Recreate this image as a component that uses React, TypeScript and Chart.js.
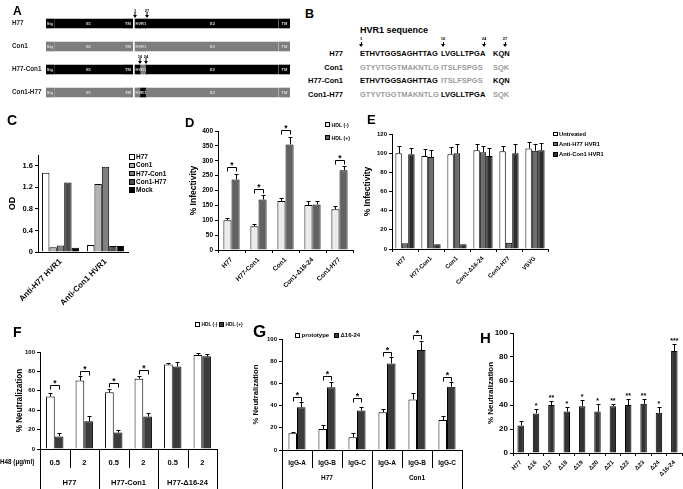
import React, { useEffect, useRef } from 'react';
import { Chart, registerables } from 'chart.js';

Chart.register(...registerables);

const FF = "'Liberation Sans', Arial, Helvetica, sans-serif";
Chart.defaults.font.family = FF;
Chart.defaults.color = '#000';

// ---------------- Panel A data (domain map) ----------------
const aRows = ['H77', 'Con1', 'H77-Con1', 'Con1-H77'];
const aRowBase = ['H77', 'Con1', 'H77', 'Con1'];
const aRowMid = ['H77', 'Con1', 'Con1', 'H77']; // origin of HVR1 residues 16-24
const aDomainLabels = ['Sig', 'E1', 'TM', 'HVR1', 'E2', 'TM'];
const aDomainFrom = [0, 8.5, 77.3, 89, 101.3, 232.7];
const aDomainTo = [7.7, 76.7, 86.7, 100.7, 231.7, 244];
const aHvrCuts = [94, 99.5];
const aArrowRows = [0, 0, 2, 2];
const aArrowAt = [89, 100.7, 94, 99.5];
const aArrowText = ['1', '27', '16', '24'];

// ---------------- Panel B data (sequences) ----------------
const bRows = ['H77', 'Con1', 'H77-Con1', 'Con1-H77'];
const bH77Blocks = ['ETHVTGGSAGHTTAG', 'LVGLLTPGA', 'KQN'];
const bCon1Blocks = ['GTYVTGGTMAKNTLG', 'ITSLFSPGS', 'SQK'];
const bRowOrigin = [
  ['H77', 'H77', 'H77'],
  ['Con1', 'Con1', 'Con1'],
  ['H77', 'Con1', 'H77'],
  ['Con1', 'H77', 'Con1'],
];
const bMarks = ['1', '16', '24', '27'];

// ---------------- Panel C data ----------------
const cCategories = ['Anti-H77 HVR1', 'Anti-Con1 HVR1'];
const cSeries = ['H77', 'Con1', 'H77-Con1', 'Con1-H77', 'Mock'];
const cH77 = [1.47, 0.13];
const cCon1 = [0.09, 1.26];
const cH77Con1 = [0.12, 1.58];
const cCon1H77 = [1.29, 0.11];
const cMock = [0.08, 0.11];

// ---------------- Panel D data ----------------
const dCategories = ['H77', 'H77-Con1', 'Con1', 'Con1-Δ16-24', 'Con1-H77'];
const dSeries = ['HDL (-)', 'HDL (+)'];
const dHdlMinus = [100, 80, 165, 151, 137];
const dHdlMinusErr = [6, 6, 11, 14, 12];
const dHdlPlus = [237, 170, 355, 153, 268];
const dHdlPlusErr = [20, 14, 25, 12, 14];
const dSigIndex = [0, 1, 2, 4];
const dSigLevel = [279, 204, 402, 304];

// ---------------- Panel E data ----------------
const eCategories = ['H77', 'H77-Con1', 'Con1', 'Con1-Δ16-24', 'Con1-H77', 'VSVG'];
const eSeries = ['Untreated', 'Anti-H77 HVR1', 'Anti-Con1 HVR1'];
const eUntreated = [100, 97, 99, 103, 102, 105];
const eUntreatedErr = [8, 7, 7, 7, 5.5, 7];
const eAntiH77 = [6, 96, 100, 101, 6.5, 102.5];
const eAntiH77Err = [0, 7, 10, 6.5, 0, 7.5];
const eAntiCon1 = [99, 5, 5, 97, 100, 103];
const eAntiCon1Err = [6, 0, 0, 8, 10, 8];

// ---------------- Panel F data ----------------
const fDoses = ['0.5', '2', '0.5', '2', '0.5', '2'];
const fConstructs = ['H77', 'H77-Con1', 'H77-Δ16-24'];
const fSeries = ['HDL (-)', 'HDL (+)'];
const fHdlMinus = [54, 70.5, 58.5, 72.5, 87, 97];
const fHdlMinusErr = [4, 5, 3.5, 3, 1.5, 2];
const fHdlPlus = [13, 28.5, 17, 33.5, 85, 95.5];
const fHdlPlusErr = [4, 6, 3, 4, 4.5, 2];
const fSigIndex = [0, 1, 2, 3];
const fSigLevel = [66, 80, 68, 81];

// ---------------- Panel G data ----------------
const gAntibodies = ['IgG-A', 'IgG-B', 'IgG-C', 'IgG-A', 'IgG-B', 'IgG-C'];
const gViruses = ['H77', 'Con1'];
const gSeries = ['prototype', 'Δ16-24'];
const gPrototype = [15, 19, 11.5, 34, 45.5, 27];
const gPrototypeErr = [1.5, 3.5, 3.5, 2.5, 6, 4];
const gDelta = [38.5, 56.5, 35.5, 78, 90, 57];
const gDeltaErr = [4.5, 4.5, 3, 5.5, 8, 4.5];
const gSigIndex = [0, 1, 2, 3, 4, 5];
const gSigLevel = [48, 66.5, 47, 88, 103.5, 66];

// ---------------- Panel H data ----------------
const hMutants = ['H77', 'Δ16', 'Δ17', 'Δ18', 'Δ19', 'Δ20', 'Δ21', 'Δ22', 'Δ23', 'Δ24', 'Δ16-24'];
const hValues = [23, 33, 40, 34.5, 39, 34.5, 39, 40, 41, 33.5, 85];
const hErr = [3.5, 3.5, 3.5, 3.5, 5.5, 6, 2, 5, 4, 5, 6];
const hStars = ['', '*', '**', '*', '*', '*', '**', '**', '**', '*', '***'];

// ---------------- helpers ----------------
type Box = { left: number; top: number; width: number; height: number };
type Plot = { x0: number; y0: number; x1: number; y1: number };

function fixW(w: number) {
  return (s: any) => {
    s.width = w;
    s.paddingTop = 0; s.paddingBottom = 0; s.paddingLeft = 0; s.paddingRight = 0;
  };
}
function fixH(h: number) {
  return (s: any) => {
    s.height = h;
    s.paddingTop = 0; s.paddingBottom = 0; s.paddingLeft = 0; s.paddingRight = 0;
  };
}
function frame(box: Box, plot: Plot, padLeft = 0) {
  return {
    padding: { left: padLeft, top: plot.y0 - box.top, right: box.left + box.width - plot.x1, bottom: 0 },
    yW: plot.x0 - box.left - padLeft,
    xH: box.top + box.height - plot.y1,
  };
}

function yAxis(o: { min: number; max: number; step: number; w: number; size: number; title?: string; titleSize?: number; titleX?: number; fmt?: (v: number) => string }) {
  const ts = o.titleSize || 8.5;
  const lh = ts * 1.2;
  return {
    type: 'linear',
    min: o.min,
    max: o.max,
    ticks: {
      stepSize: o.step,
      font: { size: o.size, weight: 'bold' },
      color: '#000',
      padding: 2,
      callback: o.fmt || ((v: any) => String(v)),
    },
    grid: { drawOnChartArea: false, drawTicks: true, tickLength: 3, tickColor: '#000', color: '#000' },
    border: { display: true, color: '#000', width: 1 },
    title: o.title
      ? { display: true, text: o.title, color: '#000', font: { size: ts, weight: 'bold', lineHeight: 1.2 }, padding: { top: (o.titleX || 0) - lh / 2, bottom: 0 } }
      : { display: false },
    afterFit: fixW(o.w),
  };
}

function xAxis(o: { h: number; size: number; rotate?: boolean; ticks?: boolean; pad?: number }) {
  return {
    type: 'category',
    ticks: {
      font: { size: o.size, weight: 'bold' },
      color: '#000',
      autoSkip: false,
      maxRotation: o.rotate ? 45 : 0,
      minRotation: o.rotate ? 45 : 0,
      padding: o.pad ?? 3,
    },
    grid: { drawOnChartArea: false, drawTicks: !!o.ticks, tickLength: 3, tickColor: '#000', color: '#000', offset: true },
    border: { display: true, color: '#000', width: 1 },
    afterFit: fixH(o.h),
  };
}

function baseOptions(padding: any, scales: any) {
  return {
    responsive: false,
    animation: false,
    devicePixelRatio: 1,
    events: [],
    layout: { padding },
    plugins: { legend: { display: false }, tooltip: { enabled: false }, title: { display: false } },
    scales,
  };
}

function bars(label: string, data: number[], color: string, errors: number[] | null, cp: number, bp: number) {
  return {
    label,
    data,
    backgroundColor: color,
    borderColor: '#000',
    borderWidth: 1,
    categoryPercentage: cp,
    barPercentage: bp,
    errors,
  };
}

const errorBars = {
  id: 'errorBars',
  afterDatasetsDraw(chart: any) {
    const ctx = chart.ctx;
    const ys = chart.scales.y;
    ctx.save();
    ctx.strokeStyle = '#000';
    ctx.lineWidth = 1;
    chart.data.datasets.forEach((ds: any, di: number) => {
      if (!ds.errors) return;
      const meta = chart.getDatasetMeta(di);
      meta.data.forEach((el: any, i: number) => {
        const e = ds.errors[i];
        if (!e) return;
        const yTop = Math.round(ys.getPixelForValue(ds.data[i] + e)) + 0.5;
        const x = Math.round(el.x) + 0.5;
        ctx.beginPath();
        ctx.moveTo(x, el.y);
        ctx.lineTo(x, yTop);
        ctx.moveTo(x - 2, yTop);
        ctx.lineTo(x + 2, yTop);
        ctx.stroke();
      });
    });
    ctx.restore();
  },
};

function bracketPlugin(idx: number[], levels: number[], size: number) {
  return {
    id: 'brackets',
    afterDatasetsDraw(chart: any) {
      const ctx = chart.ctx;
      const ys = chart.scales.y;
      const a = chart.getDatasetMeta(0).data;
      const b = chart.getDatasetMeta(1).data;
      ctx.save();
      ctx.strokeStyle = '#000';
      ctx.fillStyle = '#000';
      ctx.lineWidth = 1;
      ctx.font = `bold ${size}px ${FF}`;
      ctx.textAlign = 'center';
      ctx.textBaseline = 'alphabetic';
      idx.forEach((i, k) => {
        const yy = Math.round(ys.getPixelForValue(levels[k])) + 0.5;
        const xa = Math.round(a[i].x) + 0.5;
        const xb = Math.round(b[i].x) + 0.5;
        ctx.beginPath();
        ctx.moveTo(xa, yy + 4);
        ctx.lineTo(xa, yy);
        ctx.lineTo(xb, yy);
        ctx.lineTo(xb, yy + 4);
        ctx.stroke();
        ctx.fillText('*', (xa + xb) / 2, yy + 0.5);
      });
      ctx.restore();
    },
  };
}

function tablePlugin(o: { group: number; groups: string[]; shortBottom: number; groupY: number; size: number; leftText?: string; leftY?: number; leftSize?: number }) {
  return {
    id: 'table',
    afterDraw(chart: any) {
      const ctx = chart.ctx;
      const xs = chart.scales.x;
      const area = chart.chartArea;
      const n = xs.ticks.length;
      const bx: number[] = [];
      for (let i = 0; i <= n; i++) {
        if (i === 0) bx.push(area.left);
        else if (i === n) bx.push(area.right);
        else bx.push((xs.getPixelForTick(i - 1) + xs.getPixelForTick(i)) / 2);
      }
      ctx.save();
      ctx.strokeStyle = '#000';
      ctx.lineWidth = 1;
      bx.forEach((x, i) => {
        const xx = Math.round(x) + 0.5;
        const long = i % o.group === 0;
        ctx.beginPath();
        ctx.moveTo(xx, area.bottom);
        ctx.lineTo(xx, long ? chart.height : o.shortBottom);
        ctx.stroke();
      });
      ctx.fillStyle = '#000';
      ctx.font = `bold ${o.size}px ${FF}`;
      ctx.textAlign = 'center';
      ctx.textBaseline = 'middle';
      o.groups.forEach((g, gi) => {
        const x = (bx[gi * o.group] + bx[(gi + 1) * o.group]) / 2;
        ctx.fillText(g, x, o.groupY);
      });
      if (o.leftText) {
        ctx.textAlign = 'left';
        ctx.font = `bold ${o.leftSize}px ${FF}`;
        ctx.fillText(o.leftText, 0, o.leftY);
      }
      ctx.restore();
    },
  };
}

function ChartCanvas({ box, config }: { box: Box; config: () => any }) {
  const ref = useRef<HTMLCanvasElement | null>(null);
  useEffect(() => {
    if (!ref.current) return;
    const chart = new Chart(ref.current, config());
    return () => chart.destroy();
  }, []);
  return (
    <canvas
      ref={ref}
      width={box.width}
      height={box.height}
      style={{ position: 'absolute', left: box.left, top: box.top, width: box.width, height: box.height }}
    />
  );
}

// ---------------- Panel A chart ----------------
const BLACK = '#000000';
const GREY = '#7d7d7d';
const boxA: Box = { left: 0, top: 8, width: 300, height: 100 };
function configA() {
  const datasets: any[] = [];
  const colorOf = (o: string) => (o === 'H77' ? BLACK : GREY);
  aDomainLabels.forEach((lab, di) => {
    const pieces: [number, number, string[]][] =
      lab === 'HVR1'
        ? [
            [aDomainFrom[di], aHvrCuts[0], aRowBase],
            [aHvrCuts[0], aHvrCuts[1], aRowMid],
            [aHvrCuts[1], aDomainTo[di], aRowBase],
          ]
        : [[aDomainFrom[di], aDomainTo[di], aRowBase]];
    pieces.forEach(([s, e, origin]) => {
      datasets.push({
        data: aRows.map(() => [s, e]),
        backgroundColor: origin.map(colorOf),
        borderWidth: 0,
        barThickness: 9,
        grouped: false,
      });
    });
  });
  const plugin = {
    id: 'aLabels',
    afterDatasetsDraw(chart: any) {
      const ctx = chart.ctx;
      const xs = chart.scales.x;
      const ys = chart.scales.y;
      ctx.save();
      ctx.fillStyle = '#dcdcdc';
      ctx.font = `bold 4px ${FF}`;
      ctx.textAlign = 'center';
      ctx.textBaseline = 'middle';
      aRows.forEach((_, ri) => {
        const y = ys.getPixelForValue(ri);
        aDomainLabels.forEach((lab, di) => {
          const x = xs.getPixelForValue((aDomainFrom[di] + aDomainTo[di]) / 2);
          ctx.fillText(lab, x, y);
        });
      });
      ctx.fillStyle = '#000';
      aArrowAt.forEach((at, k) => {
        const x = Math.round(xs.getPixelForValue(at));
        const top = ys.getPixelForValue(aArrowRows[k]) - 4.5;
        ctx.beginPath();
        ctx.moveTo(x - 2, top - 4);
        ctx.lineTo(x + 2, top - 4);
        ctx.lineTo(x, top - 1);
        ctx.closePath();
        ctx.fill();
        ctx.fillRect(x - 0.5, top - 7, 1, 3);
        ctx.font = `bold 4px ${FF}`;
        ctx.textBaseline = 'alphabetic';
        ctx.fillText(aArrowText[k], x, top - 7.5);
      });
      ctx.restore();
    },
  };
  return {
    type: 'bar',
    data: { labels: aRows, datasets },
    options: {
      indexAxis: 'y',
      responsive: false,
      animation: false,
      devicePixelRatio: 1,
      events: [],
      layout: { padding: { left: 12, top: 4, right: 10, bottom: 4 } },
      plugins: { legend: { display: false }, tooltip: { enabled: false } },
      scales: {
        x: { type: 'linear', min: 0, max: 244, display: false },
        y: {
          type: 'category',
          ticks: { font: { size: 6.3, weight: 'bold' }, color: '#222', crossAlign: 'far', padding: 0 },
          grid: { display: false },
          border: { display: false },
          afterFit: fixW(34),
        },
      },
    },
    plugins: [plugin],
  };
}

// ---------------- Panel C ----------------
const boxC: Box = { left: 0, top: 130, width: 180, height: 180 };
const plotC: Plot = { x0: 38, y0: 155, x1: 128, y1: 252 };
const cColors = ['#ffffff', '#b3b3b3', '#808080', '#4d4d4d', '#000000'];
function configC() {
  const fr = frame(boxC, plotC);
  const vals = [cH77, cCon1, cH77Con1, cCon1H77, cMock];
  return {
    type: 'bar',
    data: {
      labels: cCategories,
      datasets: cSeries.map((s, i) => bars(s, vals[i], cColors[i], null, 0.82, 1)),
    },
    options: baseOptions(fr.padding, {
      x: xAxis({ h: fr.xH, size: 8, rotate: true, ticks: false, pad: 5 }),
      y: yAxis({ min: 0, max: 1.8, step: 0.2, w: fr.yW, size: 7.5, title: 'OD', titleSize: 9, titleX: 13, fmt: (v) => String(Math.round(v * 10) / 10) }),
    }),
  };
}

// ---------------- Panel D ----------------
const boxD: Box = { left: 180, top: 118, width: 182, height: 192 };
const plotD: Plot = { x0: 218, y0: 131, x1: 353, y1: 250 };
const dColors = ['#ebebeb', '#626262'];
function configD() {
  const fr = frame(boxD, plotD);
  return {
    type: 'bar',
    data: {
      labels: dCategories,
      datasets: [
        bars(dSeries[0], dHdlMinus, dColors[0], dHdlMinusErr, 0.6, 1),
        bars(dSeries[1], dHdlPlus, dColors[1], dHdlPlusErr, 0.6, 1),
      ],
    },
    options: baseOptions(fr.padding, {
      x: xAxis({ h: fr.xH, size: 6.5, rotate: true, ticks: true, pad: 3 }),
      y: yAxis({ min: 0, max: 400, step: 50, w: fr.yW, size: 6.5, title: '% Infectivity', titleSize: 8.5, titleX: 14 }),
    }),
    plugins: [errorBars, bracketPlugin(dSigIndex, dSigLevel, 8.5)],
  };
}

// ---------------- Panel E ----------------
const boxE: Box = { left: 362, top: 118, width: 190, height: 192 };
const plotE: Plot = { x0: 392, y0: 134, x1: 548, y1: 249 };
const eColors = ['#ffffff', '#6e6e6e', '#2e2e2e'];
function configE() {
  const fr = frame(boxE, plotE);
  return {
    type: 'bar',
    data: {
      labels: eCategories,
      datasets: [
        bars(eSeries[0], eUntreated, eColors[0], eUntreatedErr, 0.74, 1),
        bars(eSeries[1], eAntiH77, eColors[1], eAntiH77Err, 0.74, 1),
        bars(eSeries[2], eAntiCon1, eColors[2], eAntiCon1Err, 0.74, 1),
      ],
    },
    options: baseOptions(fr.padding, {
      x: xAxis({ h: fr.xH, size: 6, rotate: true, ticks: true, pad: 3 }),
      y: yAxis({ min: 0, max: 120, step: 20, w: fr.yW, size: 6, title: '% Infectivity', titleSize: 8.5, titleX: 6 }),
    }),
    plugins: [errorBars],
  };
}

// ---------------- Panel F ----------------
const boxF: Box = { left: 0, top: 320, width: 240, height: 169 };
const plotF: Plot = { x0: 40, y0: 352, x1: 217, y1: 449 };
const fColors = ['#ffffff', '#3c3c3c'];
function configF() {
  const fr = frame(boxF, plotF);
  return {
    type: 'bar',
    data: {
      labels: fDoses,
      datasets: [
        bars(fSeries[0], fHdlMinus, fColors[0], fHdlMinusErr, 0.59, 1),
        bars(fSeries[1], fHdlPlus, fColors[1], fHdlPlusErr, 0.59, 1),
      ],
    },
    options: baseOptions(fr.padding, {
      x: xAxis({ h: fr.xH, size: 7.5, rotate: false, ticks: false, pad: 9.5 }),
      y: yAxis({ min: 0, max: 100, step: 20, w: fr.yW, size: 6, title: '% Neutralization', titleSize: 8.2, titleX: 20 }),
    }),
    plugins: [
      errorBars,
      bracketPlugin(fSigIndex, fSigLevel, 8.5),
      tablePlugin({ group: 2, groups: fConstructs, shortBottom: 468 - boxF.top, groupY: 483 - boxF.top, size: 7.5, leftText: 'H48 (μg/ml)', leftY: 462 - boxF.top, leftSize: 6.3 }),
    ],
  };
}

// ---------------- Panel G ----------------
const boxG: Box = { left: 240, top: 320, width: 224, height: 169 };
const plotG: Plot = { x0: 282, y0: 339, x1: 462, y1: 450 };
const gColors = ['#ffffff', '#3c3c3c'];
function configG() {
  const fr = frame(boxG, plotG);
  return {
    type: 'bar',
    data: {
      labels: gAntibodies,
      datasets: [
        bars(gSeries[0], gPrototype, gColors[0], gPrototypeErr, 0.57, 1),
        bars(gSeries[1], gDelta, gColors[1], gDeltaErr, 0.57, 1),
      ],
    },
    options: baseOptions(fr.padding, {
      x: xAxis({ h: fr.xH, size: 6.5, rotate: false, ticks: false, pad: 9 }),
      y: yAxis({ min: 0, max: 100, step: 20, w: fr.yW, size: 6, title: '% Neutralization', titleSize: 7.7, titleX: 16 }),
    }),
    plugins: [
      errorBars,
      bracketPlugin(gSigIndex, gSigLevel, 8.5),
      tablePlugin({ group: 3, groups: gViruses, shortBottom: 468 - boxG.top, groupY: 478 - boxG.top, size: 6.5 }),
    ],
  };
}

// ---------------- Panel H ----------------
const boxH: Box = { left: 464, top: 325, width: 219, height: 164 };
const plotH: Plot = { x0: 513, y0: 333, x1: 682, y1: 453 };
function configH() {
  const fr = frame(boxH, plotH);
  const stars = {
    id: 'stars',
    afterDatasetsDraw(chart: any) {
      const ctx = chart.ctx;
      const ys = chart.scales.y;
      const meta = chart.getDatasetMeta(0);
      ctx.save();
      ctx.fillStyle = '#000';
      ctx.font = `bold 7px ${FF}`;
      ctx.textAlign = 'center';
      ctx.textBaseline = 'alphabetic';
      meta.data.forEach((el: any, i: number) => {
        if (!hStars[i]) return;
        const y = ys.getPixelForValue(hValues[i] + hErr[i]);
        ctx.fillText(hStars[i], el.x, y - 1);
      });
      ctx.restore();
    },
  };
  return {
    type: 'bar',
    data: {
      labels: hMutants,
      datasets: [bars('% Neutralization', hValues, '#333333', hErr, 1, 0.42)],
    },
    options: baseOptions(fr.padding, {
      x: xAxis({ h: fr.xH, size: 6, rotate: true, ticks: true, pad: 3 }),
      y: yAxis({ min: 0, max: 100, step: 20, w: fr.yW, size: 8, title: '% Neutralization', titleSize: 8, titleX: 27 }),
    }),
    plugins: [errorBars, stars],
  };
}

// ---------------- HTML bits ----------------
function Letter({ ch, x, capTop, size }: { ch: string; x: number; capTop: number; size: number }) {
  return (
    <div style={{ position: 'absolute', left: x, top: capTop - 0.13 * size, fontSize: size, lineHeight: `${size}px`, fontWeight: 'bold' }}>
      {ch}
    </div>
  );
}

function Txt({ x, cy, size, color = '#000', right, children, weight = 'bold' }: any) {
  const style: any = {
    position: 'absolute',
    top: cy - size * 0.49,
    fontSize: size,
    lineHeight: `${size}px`,
    fontWeight: weight,
    color,
    whiteSpace: 'nowrap',
  };
  if (right !== undefined) style.right = right;
  else style.left = x;
  return <div style={style}>{children}</div>;
}

function LegendItem({ x, cy, color, label, box, size }: any) {
  return (
    <div
      style={{
        position: 'absolute',
        left: x,
        top: cy - size * 0.6,
        height: size * 1.2,
        display: 'flex',
        alignItems: 'center',
        whiteSpace: 'nowrap',
        fontSize: size,
        lineHeight: `${size * 1.2}px`,
        fontWeight: 'bold',
      }}
    >
      <span
        style={{
          display: 'inline-block',
          width: box,
          height: box,
          boxSizing: 'border-box',
          border: '1px solid #000',
          background: color,
          marginRight: 1.5,
          flexShrink: 0,
        }}
      />
      {label}
    </div>
  );
}

function Arrow({ x, top, label }: { x: number; top: number; label: string }) {
  return (
    <>
      <div style={{ position: 'absolute', left: x - 5, width: 10, top: top, fontSize: 4, lineHeight: '4px', textAlign: 'center', fontWeight: 'bold' }}>{label}</div>
      <div style={{ position: 'absolute', left: x - 0.5, top: top + 4.5, width: 1, height: 2, background: '#000' }} />
      <div
        style={{
          position: 'absolute',
          left: x - 2,
          top: top + 6.5,
          width: 0,
          height: 0,
          borderLeft: '2px solid transparent',
          borderRight: '2px solid transparent',
          borderTop: '3px solid #000',
        }}
      />
    </>
  );
}

function PanelB() {
  const rowY = [54, 68, 81, 95];
  const blockX = [360, 441, 493];
  const markX = [361, 443, 484, 505];
  return (
    <>
      <Letter ch="B" x={305} capTop={10} size={12.5} />
      <Txt x={360} cy={30} size={9}>HVR1 sequence</Txt>
      {bMarks.map((m, i) => (
        <Arrow key={m} x={markX[i]} top={37} label={m} />
      ))}
      {bRows.map((r, ri) => (
        <React.Fragment key={r}>
          <Txt right={683 - 343} cy={rowY[ri]} size={7.5}>{r}</Txt>
          {bRowOrigin[ri].map((o, bi) => (
            <Txt key={bi} x={blockX[bi]} cy={rowY[ri]} size={7.5} color={o === 'H77' ? '#000' : '#9c9c9c'}>
              {o === 'H77' ? bH77Blocks[bi] : bCon1Blocks[bi]}
            </Txt>
          ))}
        </React.Fragment>
      ))}
    </>
  );
}

export default function App() {
  return (
    <div
      style={{
        position: 'absolute',
        left: 0,
        top: 0,
        width: 683,
        height: 489,
        overflow: 'hidden',
        background: '#fff',
        fontFamily: FF,
        color: '#000',
      }}
    >
      <ChartCanvas box={boxA} config={configA} />
      <ChartCanvas box={boxC} config={configC} />
      <ChartCanvas box={boxD} config={configD} />
      <ChartCanvas box={boxE} config={configE} />
      <ChartCanvas box={boxF} config={configF} />
      <ChartCanvas box={boxG} config={configG} />
      <ChartCanvas box={boxH} config={configH} />

      <Letter ch="A" x={13} capTop={7} size={12} />
      <PanelB />
      <Letter ch="C" x={7} capTop={115} size={14} />
      <Letter ch="D" x={185} capTop={118} size={13} />
      <Letter ch="E" x={367} capTop={115} size={13} />
      <Letter ch="F" x={13} capTop={327} size={14} />
      <Letter ch="G" x={253} capTop={325} size={17} />
      <Letter ch="H" x={480} capTop={332} size={15} />

      {cSeries.map((s, i) => (
        <LegendItem key={s} x={129} cy={157 + i * 8.3} color={cColors[i]} label={s} box={5.5} size={6.5} />
      ))}
      {dSeries.map((s, i) => (
        <LegendItem key={s} x={325} cy={125 + i * 13} color={dColors[i]} label={s} box={5} size={5.2} />
      ))}
      {eSeries.map((s, i) => (
        <LegendItem key={s} x={553} cy={134 + i * 10.2} color={eColors[i]} label={s} box={4.5} size={5.8} />
      ))}
      {fSeries.map((s, i) => (
        <LegendItem key={s} x={195 + i * 24} cy={325} color={fColors[i]} label={s} box={5} size={4.8} />
      ))}
      {gSeries.map((s, i) => (
        <LegendItem key={s} x={295 + i * 39} cy={336} color={gColors[i]} label={s} box={5} size={6} />
      ))}
    </div>
  );
}
